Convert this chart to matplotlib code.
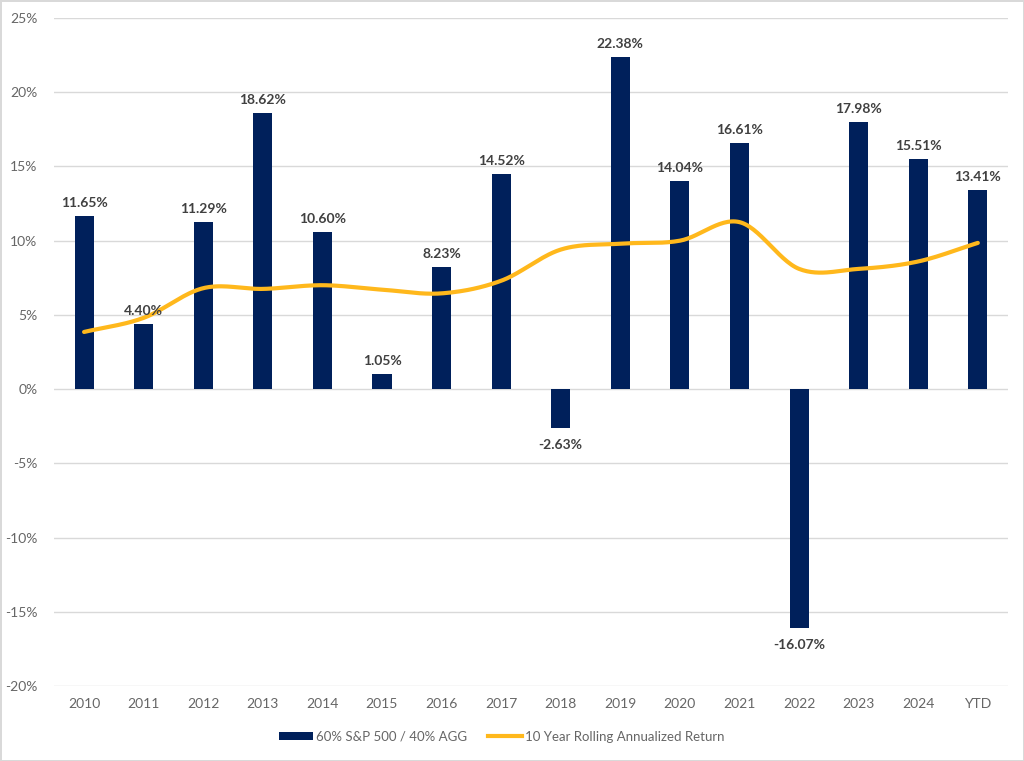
import numpy as np
import matplotlib
matplotlib.use("Agg")
import matplotlib.pyplot as plt
from matplotlib.ticker import FuncFormatter
from matplotlib.patches import Patch
from matplotlib.lines import Line2D

# data
categories = ["2010", "2011", "2012", "2013", "2014", "2015", "2016", "2017",
              "2018", "2019", "2020", "2021", "2022", "2023", "2024", "YTD"]
portfolio_returns = [11.65, 4.40, 11.29, 18.62, 10.60, 1.05, 8.23, 14.52,
                     -2.63, 22.38, 14.04, 16.61, -16.07, 17.98, 15.51, 13.41]
rolling_10yr = [3.85, 4.8, 6.8, 6.75, 7.0, 6.7, 6.45, 7.3,
                9.4, 9.8, 10.0, 11.25, 8.1, 8.1, 8.6, 9.85]

BAR_COLOR = "#00205B"
LINE_COLOR = "#FFB81C"
TEXT_COLOR = "#666666"
LABEL_COLOR = "#404040"

plt.rcParams["font.family"] = ["Lato", "DejaVu Sans"]


def smooth_curve(xs, ys, steps=30):
    """Catmull-Rom style smoothing, like the 'smoothed line' option in office charts."""
    xs = np.asarray(xs, dtype=float)
    ys = np.asarray(ys, dtype=float)
    px = np.concatenate([[2 * xs[0] - xs[1]], xs, [2 * xs[-1] - xs[-2]]])
    py = np.concatenate([[2 * ys[0] - ys[1]], ys, [2 * ys[-1] - ys[-2]]])
    out_x, out_y = [], []
    t = np.linspace(0, 1, steps, endpoint=False)
    for i in range(1, len(px) - 2):
        for p, out in ((px, out_x), (py, out_y)):
            p0, p1, p2, p3 = p[i - 1], p[i], p[i + 1], p[i + 2]
            seg = 0.5 * ((2 * p1) + (-p0 + p2) * t
                         + (2 * p0 - 5 * p1 + 4 * p2 - p3) * t ** 2
                         + (-p0 + 3 * p1 - 3 * p2 + p3) * t ** 3)
            out.extend(seg)
    out_x.append(xs[-1])
    out_y.append(ys[-1])
    return np.array(out_x), np.array(out_y)


fig = plt.figure(figsize=(10.24, 7.61), dpi=100)
fig.patch.set_facecolor("white")
fig.patch.set_edgecolor("#D9D9D9")
fig.patch.set_linewidth(2)
ax = fig.add_axes([0.053, 0.0986, 0.931, 0.8777])

x = np.arange(len(categories))
bars = ax.bar(x, portfolio_returns, width=0.32, color=BAR_COLOR, zorder=2)

lx, ly = smooth_curve(x, rolling_10yr)
ax.plot(lx, ly, color=LINE_COLOR, linewidth=3, solid_capstyle="round", zorder=3)

# data labels
for xi, v in zip(x, portfolio_returns):
    off = 5 if v >= 0 else -8
    ax.annotate(f"{v:.2f}%", (xi, v), xytext=(0, off), textcoords="offset points",
                ha="center", va="bottom" if v >= 0 else "top",
                fontsize=10, fontweight="bold", color=LABEL_COLOR, zorder=4)

ax.set_xlim(-0.5, len(categories) - 0.5)
ax.set_ylim(-20, 25)
ax.set_yticks(np.arange(-20, 26, 5))
ax.yaxis.set_major_formatter(FuncFormatter(lambda v, _: f"{v:.0f}%"))
ax.set_xticks(x)
ax.set_xticklabels(categories)

ax.grid(axis="y", color="#D9D9D9", linewidth=1, zorder=0)
ax.set_axisbelow(True)
for s in ax.spines.values():
    s.set_visible(False)
ax.tick_params(axis="both", length=0, labelsize=10, colors=TEXT_COLOR)
ax.tick_params(axis="x", pad=9)
ax.tick_params(axis="y", pad=12)

handles = [Patch(facecolor=BAR_COLOR, label="60% S&P 500 / 40% AGG"),
           Line2D([0], [0], color=LINE_COLOR, linewidth=3,
                  label="10 Year Rolling Annualized Return")]
fig.legend(handles=handles, loc="center", bbox_to_anchor=(0.49, 0.032), ncol=2,
           frameon=False, fontsize=9.5, labelcolor=TEXT_COLOR, handlelength=2.6,
           handleheight=0.6, handletextpad=0.2, columnspacing=1.6)

fig.savefig("out.png", dpi=100, facecolor=fig.get_facecolor(),
            edgecolor=fig.get_edgecolor())
